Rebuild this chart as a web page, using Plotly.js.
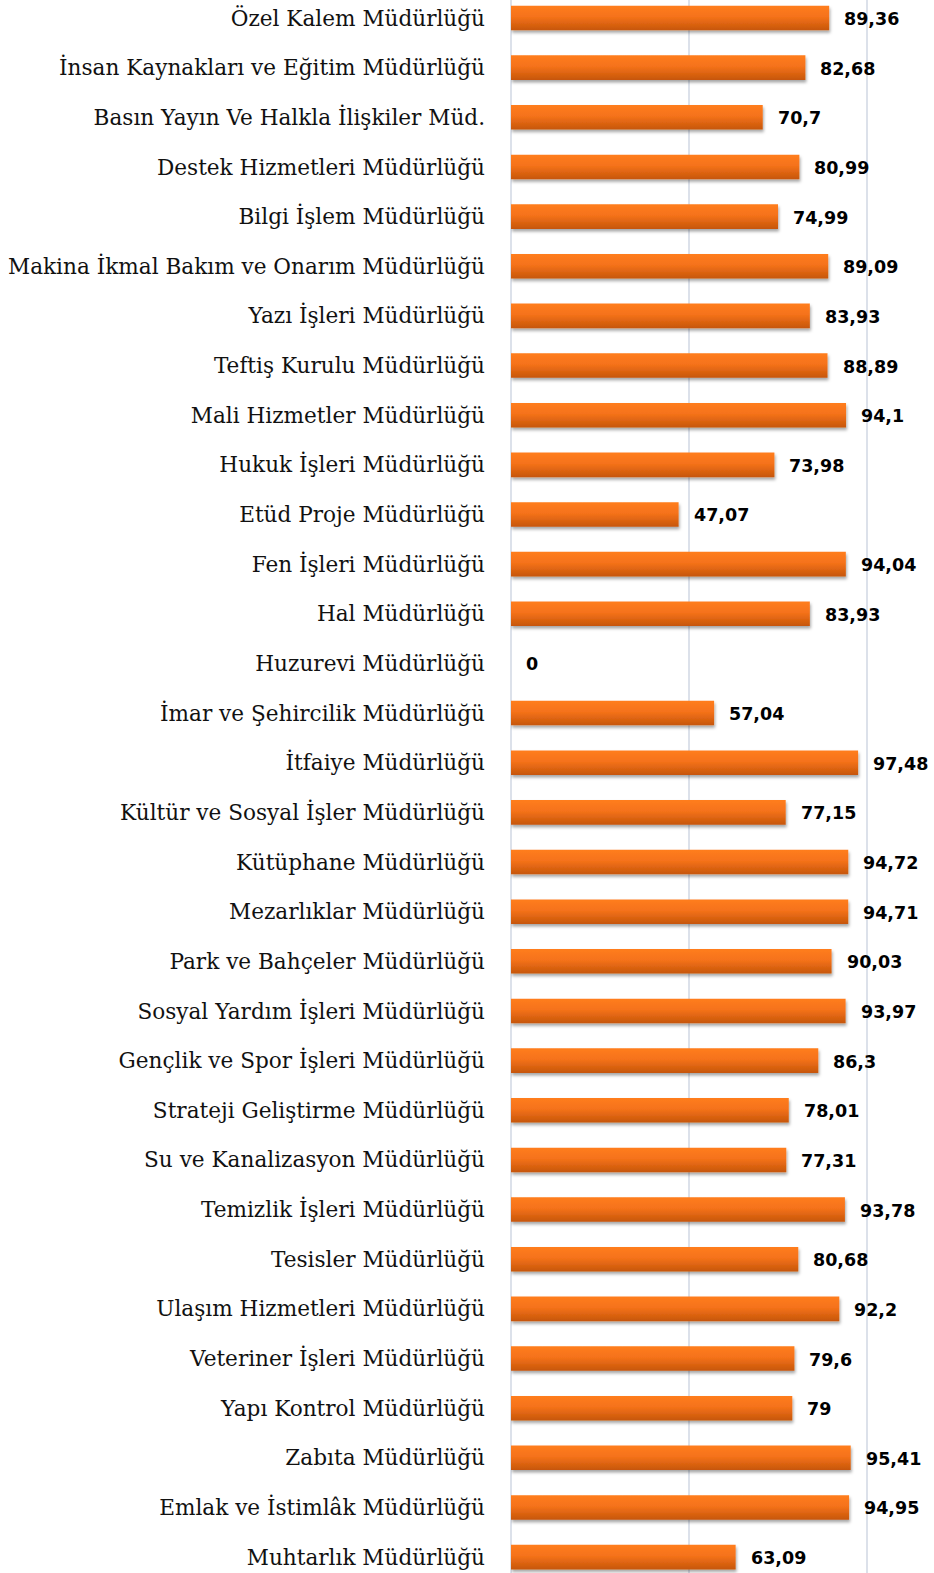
<!DOCTYPE html>
<html>
<head>
<meta charset="utf-8">
<script src="https://cdn.plot.ly/plotly-3.0.1.min.js"></script>
<style>
html,body{margin:0;padding:0;background:#fff;}
#chart{width:934px;height:1573px;}
</style>
</head>
<body>
<div id="chart"></div>
<script>
const categories = [
  "Özel Kalem Müdürlüğü",
  "İnsan Kaynakları ve Eğitim Müdürlüğü",
  "Basın Yayın Ve Halkla İlişkiler Müd.",
  "Destek Hizmetleri Müdürlüğü",
  "Bilgi İşlem Müdürlüğü",
  "Makina İkmal Bakım ve Onarım Müdürlüğü",
  "Yazı İşleri Müdürlüğü",
  "Teftiş Kurulu Müdürlüğü",
  "Mali Hizmetler Müdürlüğü",
  "Hukuk İşleri Müdürlüğü",
  "Etüd Proje Müdürlüğü",
  "Fen İşleri Müdürlüğü",
  "Hal Müdürlüğü",
  "Huzurevi Müdürlüğü",
  "İmar ve Şehircilik Müdürlüğü",
  "İtfaiye Müdürlüğü",
  "Kültür ve Sosyal İşler Müdürlüğü",
  "Kütüphane Müdürlüğü",
  "Mezarlıklar Müdürlüğü",
  "Park ve Bahçeler Müdürlüğü",
  "Sosyal Yardım İşleri Müdürlüğü",
  "Gençlik ve Spor İşleri Müdürlüğü",
  "Strateji Geliştirme Müdürlüğü",
  "Su ve Kanalizasyon Müdürlüğü",
  "Temizlik İşleri Müdürlüğü",
  "Tesisler Müdürlüğü",
  "Ulaşım Hizmetleri Müdürlüğü",
  "Veteriner İşleri Müdürlüğü",
  "Yapı Kontrol Müdürlüğü",
  "Zabıta Müdürlüğü",
  "Emlak ve İstimlâk Müdürlüğü",
  "Muhtarlık Müdürlüğü"
];
const values = [89.36, 82.68, 70.7, 80.99, 74.99, 89.09, 83.93, 88.89, 94.1, 73.98,
  47.07, 94.04, 83.93, 0, 57.04, 97.48, 77.15, 94.72, 94.71, 90.03,
  93.97, 86.3, 78.01, 77.31, 93.78, 80.68, 92.2, 79.6, 79, 95.41,
  94.95, 63.09];
const valueLabels = ["89,36", "82,68", "70,7", "80,99", "74,99", "89,09", "83,93", "88,89", "94,1", "73,98",
  "47,07", "94,04", "83,93", "0", "57,04", "97,48", "77,15", "94,72", "94,71", "90,03",
  "93,97", "86,3", "78,01", "77,31", "93,78", "80,68", "92,2", "79,6", "79", "95,41",
  "94,95", "63,09"];
const xTicks = [0, 50, 100];

const trace = {
  type: 'bar',
  orientation: 'h',
  y: categories,
  x: values,
  marker: {color: '#E8690F', line: {width: 0}},
  hoverinfo: 'none'
};

const annotations = categories.map((c, i) => ({
  x: values[i], y: c, xref: 'x', yref: 'y',
  text: valueLabels[i], showarrow: false,
  xanchor: 'left', yanchor: 'middle', xshift: 13, yshift: -1,
  font: {family: 'DejaVu Sans', size: 17.5, color: '#000', weight: 'bold'}
}));

const layout = {
  width: 934, height: 1573,
  margin: {l: 511, r: 0, t: 0, b: 0, pad: 0},
  paper_bgcolor: '#ffffff', plot_bgcolor: '#ffffff',
  showlegend: false,
  bargap: 0.505,
  xaxis: {
    range: [0, 118.8], tickvals: xTicks, showticklabels: false,
    showgrid: true, gridcolor: '#DCE1EA', gridwidth: 2,
    zeroline: true, zerolinecolor: '#DCE1EA', zerolinewidth: 2,
    showline: false, fixedrange: true
  },
  yaxis: {
    type: 'category', range: [31.32, -0.3625], automargin: false,
    ticks: '', showline: false, showgrid: false, zeroline: false,
    ticklabelstandoff: 25,
    tickfont: {family: 'DejaVu Serif', size: 21.6, color: '#111'}
  },
  annotations: annotations
};

Plotly.newPlot('chart', [trace], layout, {displayModeBar: false, staticPlot: true}).then(gd => {
  const NS = 'http://www.w3.org/2000/svg';
  const svg = gd.querySelector('svg.main-svg');
  let defs = svg.querySelector('defs');
  if (!defs) { defs = document.createElementNS(NS, 'defs'); svg.insertBefore(defs, svg.firstChild); }
  const grad = document.createElementNS(NS, 'linearGradient');
  grad.setAttribute('id', 'barGrad');
  grad.setAttribute('x1', '0'); grad.setAttribute('y1', '0');
  grad.setAttribute('x2', '0'); grad.setAttribute('y2', '1');
  [['0', '#FF7D1E'], ['0.45', '#F5721A'], ['1', '#C65609']].forEach(([o, c]) => {
    const s = document.createElementNS(NS, 'stop');
    s.setAttribute('offset', o); s.setAttribute('stop-color', c);
    grad.appendChild(s);
  });
  defs.appendChild(grad);
  const filt = document.createElementNS(NS, 'filter');
  filt.setAttribute('id', 'barShadow');
  filt.setAttribute('x', '-5%'); filt.setAttribute('y', '-30%');
  filt.setAttribute('width', '115%'); filt.setAttribute('height', '170%');
  const ds = document.createElementNS(NS, 'feDropShadow');
  ds.setAttribute('dx', '1'); ds.setAttribute('dy', '2.5');
  ds.setAttribute('stdDeviation', '1.5');
  ds.setAttribute('flood-color', '#000'); ds.setAttribute('flood-opacity', '0.35');
  filt.appendChild(ds);
  defs.appendChild(filt);
  gd.querySelectorAll('.barlayer .point path').forEach(p => {
    p.style.fill = 'url(#barGrad)';
    p.setAttribute('filter', 'url(#barShadow)');
  });
});
</script>
</body>
</html>
